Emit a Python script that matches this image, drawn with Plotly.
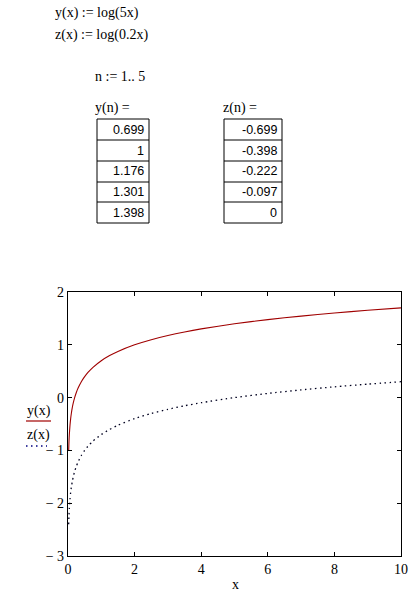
import plotly.graph_objects as go

# ---- data ----
x_vals = [0.02, 0.03, 0.04, 0.06, 0.08, 0.1, 0.13, 0.16, 0.2, 0.25, 0.3, 0.4, 0.5, 0.6,
          0.75, 1.0, 1.25, 1.5, 2.0, 2.5, 3.0, 3.5, 4.0, 5.0, 6.0, 7.0, 8.0, 9.0, 10.0]
y_vals = [-1.0, -0.824, -0.699, -0.523, -0.398, -0.301, -0.187, -0.097, 0.0, 0.097, 0.176,
          0.301, 0.398, 0.477, 0.574, 0.699, 0.796, 0.875, 1.0, 1.097, 1.176, 1.243, 1.301,
          1.398, 1.477, 1.544, 1.602, 1.653, 1.699]
z_vals = [-2.398, -2.222, -2.097, -1.921, -1.796, -1.699, -1.585, -1.495, -1.398, -1.301,
          -1.222, -1.097, -1.0, -0.921, -0.824, -0.699, -0.602, -0.523, -0.398, -0.301,
          -0.222, -0.155, -0.097, 0.0, 0.079, 0.146, 0.204, 0.255, 0.301]

n_vals = [1, 2, 3, 4, 5]
y_table = ["0.699", "1", "1.176", "1.301", "1.398"]
z_table = ["-0.699", "-0.398", "-0.222", "-0.097", "0"]

x_ticks = [0, 2, 4, 6, 8, 10]
y_ticks = [2, 1, 0, -1, -2, -3]
y_ticktext = ["2", "1", "0", "\u2212 1", "\u2212 2", "\u2212 3"]

# ---- layout geometry (pixels) ----
W, H = 419, 591
L, R, T, B = 68, 401, 292, 556
SERIF = "Liberation Serif, Times New Roman, serif"
SANS = "Liberation Sans, Arial, sans-serif"


def px(X):
    return (X - L) / (R - L)


def py(Y):
    return (B - Y) / (B - T)


fig = go.Figure()
fig.add_trace(go.Scatter(x=x_vals, y=y_vals, mode="lines",
                         line=dict(color="#a00000", width=1.1, shape="spline", smoothing=0.6),
                         showlegend=False, hoverinfo="skip"))
fig.add_trace(go.Scatter(x=x_vals, y=z_vals, mode="lines",
                         line=dict(color="#000020", width=1.3, dash="1.5px,3.5px",
                                   shape="spline", smoothing=0.6),
                         showlegend=False, hoverinfo="skip"))

shapes = []
annotations = []


def text(X, Y, s, size=14, font=SERIF, xanchor="left"):
    annotations.append(dict(x=px(X), y=py(Y), xref="paper", yref="paper", text=s,
                            showarrow=False, xanchor=xanchor, yanchor="middle",
                            font=dict(family=font, size=size, color="black")))


# formulas
text(53, 13, "y(x) := log(5x)")
text(53, 35, "z(x) := log(0.2x)")
text(93, 76, "n := 1.. 5")
text(93, 108, "y(n) =")
text(221, 108, "z(n) =")

# tables
row_edges = [119, 140, 161, 182, 202, 223]
for (xl, xr, vals) in [(97, 149, y_table), (224, 282, z_table)]:
    shapes.append(dict(type="rect", xref="paper", yref="paper",
                       x0=px(xl), x1=px(xr), y0=py(row_edges[-1]), y1=py(row_edges[0]),
                       line=dict(color="black", width=1)))
    for yy in row_edges[1:-1]:
        shapes.append(dict(type="line", xref="paper", yref="paper",
                           x0=px(xl), x1=px(xr), y0=py(yy), y1=py(yy),
                           line=dict(color="black", width=1)))
    for i, v in enumerate(vals):
        yc = (row_edges[i] + row_edges[i + 1]) / 2
        text(xr - 3, yc, v, size=12.5, font=SANS, xanchor="right")

# legend
text(25, 411, "y(x)")
shapes.append(dict(type="line", xref="paper", yref="paper", x0=px(26), x1=px(51),
                   y0=py(421), y1=py(421), line=dict(color="#a00000", width=1.2)))
text(25, 435, "z(x)")
shapes.append(dict(type="line", xref="paper", yref="paper", x0=px(26), x1=px(47),
                   y0=py(446), y1=py(446),
                   line=dict(color="#000080", width=1.3, dash="1.5px,3.5px")))

# x axis title
text(235, 584, "x", xanchor="center")

axis_common = dict(showgrid=False, zeroline=False, showline=True, linecolor="black",
                   linewidth=1.3, ticks="inside", ticklen=4, tickcolor="black", mirror="ticks",
                   tickfont=dict(family=SERIF, size=14, color="black"))

fig.update_layout(
    width=W, height=H,
    margin=dict(l=L, r=W - R, t=T, b=H - B, pad=0),
    paper_bgcolor="white", plot_bgcolor="white",
    xaxis=dict(range=[0, 10], tickvals=x_ticks, ticktext=[str(t) for t in x_ticks],
               ticklabelstandoff=0, **axis_common),
    yaxis=dict(range=[-3, 2], tickvals=y_ticks, ticktext=y_ticktext,
               ticklabelstandoff=0, **axis_common),
    shapes=shapes, annotations=annotations,
)

fig.write_html("out.html", config={"displayModeBar": False},
               post_script="document.body.style.margin='0px';document.body.style.padding='0px';")
